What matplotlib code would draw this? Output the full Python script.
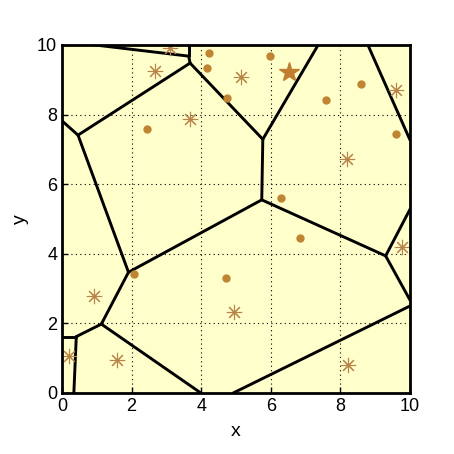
import numpy as np
import matplotlib
matplotlib.use('Agg')
import matplotlib.pyplot as plt

plt.rcParams['font.family'] = ['Liberation Sans', 'DejaVu Sans']

# sample points shown as filled dots
dot_x = [4.22, 4.17, 4.73, 2.43, 5.98, 7.58, 8.59, 9.61, 6.28, 6.85, 2.07, 4.72]
dot_y = [9.77, 9.34, 8.48, 7.60, 9.68, 8.43, 8.87, 7.43, 5.60, 4.45, 3.42, 3.29]

# sample points shown as asterisks
ast_x = [3.11, 2.67, 3.69, 5.14, 9.59, 8.18, 9.77, 4.93, 8.22, 0.93, 1.59, 0.21]
ast_y = [9.90, 9.25, 7.88, 9.07, 8.71, 6.72, 4.20, 2.32, 0.81, 2.80, 0.95, 1.06]

# highlighted point
star_x = [6.53]
star_y = [9.23]

# Voronoi vertices (x, y) and the edges joining them
vx = [0.95, 3.64, 3.64, 3.68, 0.46, 0.00, 5.77, 7.36, 5.74, 1.91, 1.13,
      0.41, 0.00, 0.34, 3.99, 4.92, 10.0, 10.0, 9.30, 10.0, 8.79, 10.0]
vy = [10.0, 9.68, 10.0, 9.48, 7.41, 7.82, 7.29, 10.0, 5.55, 3.47, 1.98,
      1.62, 1.62, 0.00, 0.00, 0.00, 2.50, 2.67, 3.94, 5.28, 10.0, 7.27]
edges = [(0, 1), (1, 2), (1, 3), (3, 4), (4, 5), (3, 6), (6, 7), (6, 8),
         (8, 9), (9, 4), (9, 10), (10, 11), (11, 12), (11, 13), (10, 14),
         (15, 16), (8, 18), (18, 19), (18, 17), (20, 21)]

fig = plt.figure(figsize=(4.54, 4.54), dpi=100)
ax = fig.add_axes([0.1366, 0.1344, 0.7665, 0.7665])
ax.set_facecolor('#FFFFCC')

for i, j in edges:
    ax.plot([vx[i], vx[j]], [vy[i], vy[j]], color='black', lw=2.1,
            solid_capstyle='round', zorder=3)

ax.plot(dot_x, dot_y, 'o', color='#C08532', markersize=5, zorder=4)
ax.plot(ast_x, ast_y, linestyle='none', marker=(8, 2, 0), color='#B9844A',
        markersize=11, markeredgewidth=0.8, zorder=4)
ax.plot(star_x, star_y, '*', color='#C07E2E', markersize=15, zorder=4)

ax.set_xlim(0, 10)
ax.set_ylim(0, 10)
ax.set_xticks(np.arange(0, 11, 2))
ax.set_yticks(np.arange(0, 11, 2))
ax.grid(True, color='black', linestyle=(0, (1, 3)), linewidth=0.8)
ax.tick_params(direction='in', labelsize=13, length=4, width=1)
for s in ax.spines.values():
    s.set_linewidth(2.0)
    s.set_zorder(5)
ax.set_xlabel('x', fontsize=14, labelpad=6)
ax.set_ylabel('y', fontsize=14, labelpad=6)

fig.savefig('out.png', dpi=100)
